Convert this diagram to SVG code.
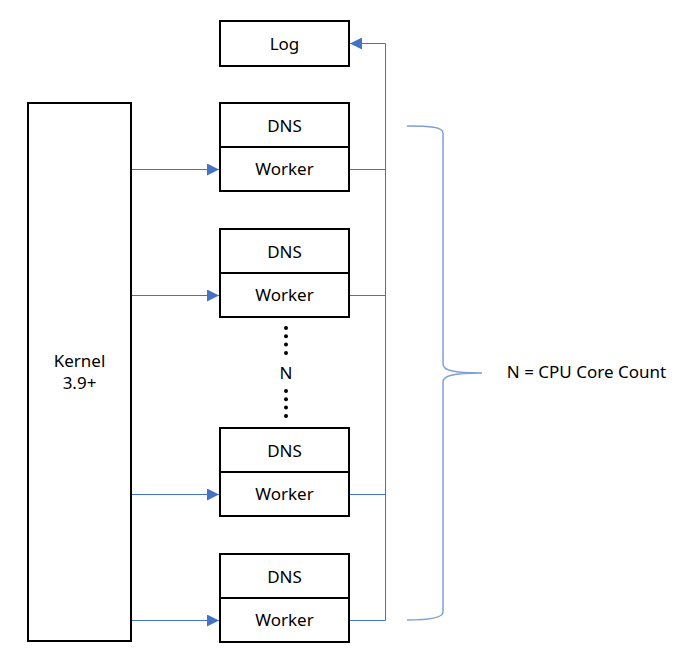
<svg xmlns="http://www.w3.org/2000/svg" width="695" height="663" viewBox="0 0 695 663">
<defs>
<style>
.box{fill:#fff;stroke:#000;stroke-width:2}
.t{font-family:"Noto Sans","Open Sans",sans-serif;font-size:17px;fill:#000;text-anchor:middle}
.c{fill:none;stroke:#4472C4;stroke-width:1}
.br{fill:none;stroke:#7F9FD8;stroke-width:1.5}
</style>
<marker id="ah" viewBox="0 0 10 10" refX="10" refY="5" markerWidth="12" markerHeight="12" markerUnits="userSpaceOnUse" orient="auto">
<path d="M0,0 L10,5 L0,10 Z" fill="#4472C4"/>
</marker>
</defs>
<rect width="695" height="663" fill="#fff"/>
<g id="connectors">
<line class="c" x1="131" y1="169.5" x2="219" y2="169.5" marker-end="url(#ah)"/>
<line class="c" x1="131" y1="295.5" x2="219" y2="295.5" marker-end="url(#ah)"/>
<line class="c" x1="131" y1="494.5" x2="219" y2="494.5" marker-end="url(#ah)"/>
<line class="c" x1="131" y1="620.5" x2="219" y2="620.5" marker-end="url(#ah)"/>
<line class="c" x1="349" y1="169.5" x2="385.5" y2="169.5"/>
<line class="c" x1="349" y1="295.5" x2="385.5" y2="295.5"/>
<line class="c" x1="349" y1="494.5" x2="385.5" y2="494.5"/>
<line class="c" x1="349" y1="620.5" x2="385.5" y2="620.5"/>
<polyline class="c" points="385.5,620.5 385.5,43.5 350,43.5" marker-end="url(#ah)"/>
</g>
<g id="kernel">
<rect class="box" x="28" y="103" width="103" height="538"/>
<text class="t" x="79.5" y="367">Kernel</text>
<text class="t" x="79.5" y="389">3.9+</text>
</g>
<g id="log">
<rect class="box" x="220" y="21" width="129" height="45"/>
<text class="t" x="284.5" y="50">Log</text>
</g>
<g id="worker1">
<rect class="box" x="220" y="103" width="129" height="88"/>
<line x1="220" y1="147" x2="349" y2="147" stroke="#000" stroke-width="2"/>
<text class="t" x="284.5" y="132">DNS</text>
<text class="t" x="284.5" y="175">Worker</text>
</g>
<g id="worker2">
<rect class="box" x="220" y="229" width="129" height="88"/>
<line x1="220" y1="273" x2="349" y2="273" stroke="#000" stroke-width="2"/>
<text class="t" x="284.5" y="258">DNS</text>
<text class="t" x="284.5" y="301">Worker</text>
</g>
<g id="worker3">
<rect class="box" x="220" y="428" width="129" height="88"/>
<line x1="220" y1="472" x2="349" y2="472" stroke="#000" stroke-width="2"/>
<text class="t" x="284.5" y="457">DNS</text>
<text class="t" x="284.5" y="500">Worker</text>
</g>
<g id="worker4">
<rect class="box" x="220" y="554" width="129" height="88"/>
<line x1="220" y1="598" x2="349" y2="598" stroke="#000" stroke-width="2"/>
<text class="t" x="284.5" y="583">DNS</text>
<text class="t" x="284.5" y="626">Worker</text>
</g>
<g id="ellipsis">
<g fill="#000">
<circle cx="286" cy="328" r="2"/>
<circle cx="286" cy="336.3" r="2"/>
<circle cx="286" cy="344.6" r="2"/>
<circle cx="286" cy="353" r="2"/>
<circle cx="286" cy="391" r="2"/>
<circle cx="286" cy="399.3" r="2"/>
<circle cx="286" cy="407.6" r="2"/>
<circle cx="286" cy="416" r="2"/>
</g>
<text class="t" x="286" y="379">N</text>
</g>
<g id="brace">
<path class="br" d="M407,126 C430,126 443,127 443,133 V364 C443,370 452,373 482,373 C452,373 443,376 443,382 V612 C443,618 430,620 407,620"/>
<text class="t" x="586.5" y="378">N = CPU Core Count</text>
</g>
</svg>
